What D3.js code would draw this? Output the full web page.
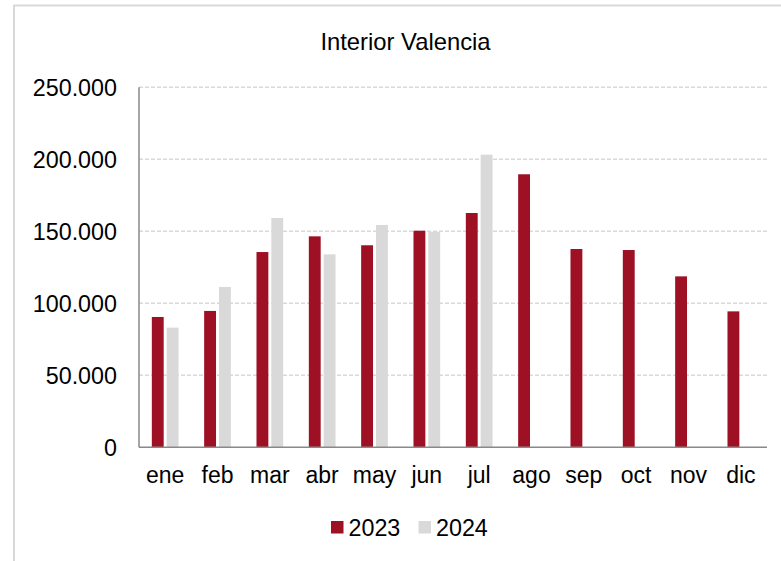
<!DOCTYPE html>
<html>
<head>
<meta charset="utf-8">
<script src="https://cdn.jsdelivr.net/npm/d3@7"></script>
<style>
  body { margin: 0; background: #fff; }
  svg { display: block; font-family: "Liberation Sans", Arial, sans-serif; }
</style>
</head>
<body>
<div id="chart"></div>
<script>
// Data
var months = ["ene", "feb", "mar", "abr", "may", "jun", "jul", "ago", "sep", "oct", "nov", "dic"];
var series = ["2023", "2024"];
var values2023 = [90500, 94700, 135600, 146500, 140300, 150400, 162700, 189600, 137700, 137000, 118700, 94400];
var values2024 = [83100, 111300, 159200, 134000, 154400, 149700, 203200, null, null, null, null, null];
var yTicks = [0, 50000, 100000, 150000, 200000, 250000];
var colors = ["#9e1124", "#d9d9d9"];

var W = 781, H = 561;
var margin = {top: 87.3, right: 14, bottom: 113.7, left: 139};

var svg = d3.select("#chart").append("svg")
    .attr("width", W)
    .attr("height", H);

// outer frame
svg.append("rect")
    .attr("x", 14).attr("y", 5.5)
    .attr("width", W).attr("height", H)
    .attr("fill", "none")
    .attr("stroke", "#d9d9d9")
    .attr("stroke-width", 2);

var x = d3.scaleBand()
    .domain(months)
    .range([margin.left, W - margin.right])
    .paddingInner(0.49)
    .paddingOuter(0.245);

var x1 = d3.scaleBand()
    .domain(series)
    .range([0, x.bandwidth()])
    .paddingInner(0.2);

var y = d3.scaleLinear()
    .domain([0, 250000])
    .range([H - margin.bottom, margin.top]);

var fmt = function(d) { return d3.format(",")(d).replace(/,/g, "."); };

// gridlines
svg.append("g")
  .selectAll("line")
  .data(yTicks.slice(1))
  .enter().append("line")
    .attr("x1", margin.left)
    .attr("x2", W - margin.right)
    .attr("y1", function(d) { return y(d); })
    .attr("y2", function(d) { return y(d); })
    .attr("stroke", "#d9d9d9")
    .attr("stroke-width", 1.5)
    .attr("stroke-dasharray", "4,2");

// y labels
svg.append("g")
  .selectAll("text")
  .data(yTicks)
  .enter().append("text")
    .attr("x", 117)
    .attr("y", function(d) { return y(d); })
    .attr("dy", "0.38em")
    .attr("text-anchor", "end")
    .attr("font-size", 23.3)
    .attr("fill", "#000")
    .text(fmt);

// bars
var rows = months.map(function(m, i) {
  return {month: m, vals: [values2023[i], values2024[i]]};
});

var groups = svg.append("g")
  .selectAll("g")
  .data(rows)
  .enter().append("g")
    .attr("transform", function(d) { return "translate(" + x(d.month) + ",0)"; });

groups.selectAll("rect")
    .data(function(d) {
      return series.map(function(s, j) { return {s: s, v: d.vals[j], c: colors[j]}; })
        .filter(function(e) { return e.v != null; });
    })
  .enter().append("rect")
    .attr("x", function(d) { return x1(d.s); })
    .attr("width", x1.bandwidth())
    .attr("y", function(d) { return y(d.v); })
    .attr("height", function(d) { return y(0) - y(d.v); })
    .attr("fill", function(d) { return d.c; });

// axes lines
svg.append("line")
    .attr("x1", margin.left).attr("x2", margin.left)
    .attr("y1", y(250000)).attr("y2", y(0))
    .attr("stroke", "#898989").attr("stroke-width", 1.5);
svg.append("line")
    .attr("x1", margin.left).attr("x2", W - margin.right)
    .attr("y1", y(0)).attr("y2", y(0))
    .attr("stroke", "#898989").attr("stroke-width", 1.5);

// x labels
svg.append("g")
  .selectAll("text")
  .data(months)
  .enter().append("text")
    .attr("x", function(d) { return x(d) + x.bandwidth() / 2; })
    .attr("y", 483)
    .attr("text-anchor", "middle")
    .attr("font-size", 23)
    .attr("fill", "#000")
    .text(function(d) { return d; });

// title
svg.append("text")
    .attr("x", 405.5)
    .attr("y", 50)
    .attr("text-anchor", "middle")
    .attr("font-size", 23.8)
    .attr("fill", "#000")
    .text("Interior Valencia");

// legend
var legendX = [331, 418.5];
var leg = svg.append("g")
  .selectAll("g")
  .data(series)
  .enter().append("g")
    .attr("transform", function(d, i) { return "translate(" + legendX[i] + ",521)"; });
leg.append("rect")
    .attr("width", 12.5).attr("height", 12.5)
    .attr("fill", function(d, i) { return colors[i]; });
leg.append("text")
    .attr("x", 17.5)
    .attr("y", 14.5)
    .attr("font-size", 23.3)
    .attr("fill", "#000")
    .text(function(d) { return d; });
</script>
</body>
</html>
